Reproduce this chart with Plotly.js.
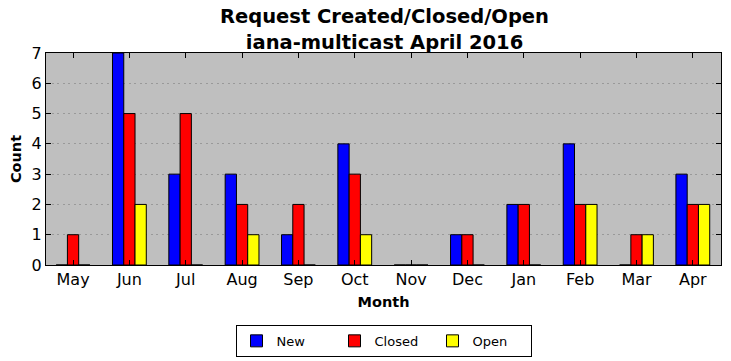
<!DOCTYPE html>
<html>
<head>
<meta charset="utf-8">
<script src="https://cdn.plot.ly/plotly-3.0.1.min.js"></script>
<style>html,body{margin:0;padding:0;background:#fff;}#chart{width:731px;height:361px;}</style>
</head>
<body>
<div id="chart"></div>
<script>
var months = ["May","Jun","Jul","Aug","Sep","Oct","Nov","Dec","Jan","Feb","Mar","Apr"];
var newVals = [0,7,3,3,1,4,0,1,2,4,0,3];
var closedVals = [1,5,5,2,2,3,0,1,2,2,1,2];
var openVals = [0,2,0,1,0,1,0,0,0,2,1,2];
var yTicks = [0,1,2,3,4,5,6,7];

function mk(name, vals, color){
  return {type:'bar', name:name, x:months, y:vals,
    marker:{color:color, line:{color:'#000', width:1}}};
}
var data = [mk('New', newVals, '#0000ff'), mk('Closed', closedVals, '#ff0000'), mk('Open', openVals, '#ffff00')];
var font = "DejaVu Sans, sans-serif";
var layout = {
  width:731, height:361,
  margin:{l:46, r:10, t:53, b:96, autoexpand:false},
  paper_bgcolor:'#fff', plot_bgcolor:'#bfbfbf',
  font:{family:font, color:'#000'},
  title:{text:'<b>Request Created/Closed/Open<br>iana-multicast April 2016</b>', font:{size:19.5, family:font}, x:0.526, xanchor:'center', yref:'container', y:0.935, yanchor:'top'},
  barmode:'group', bargap:0.4, bargroupgap:0,
  xaxis:{type:'category', range:[-0.48,11.5], showline:true, linecolor:'#000', linewidth:1, mirror:'ticks',
    ticks:'inside', ticklen:5, tickcolor:'#000', tickfont:{size:16}, showgrid:false, automargin:false,
    title:{text:'<b>Month</b>', font:{size:14.5}, standoff:8}},
  yaxis:{range:[0,7], tickvals:yTicks, showline:true, linecolor:'#000', linewidth:1, mirror:'ticks',
    ticks:'inside', ticklen:5, tickcolor:'#000', tickfont:{size:16}, showgrid:true, gridcolor:'#999999', griddash:'2px,3.5px', gridwidth:1, zeroline:false, automargin:false,
    title:{text:'<b>Count</b>', font:{size:14.5}, standoff:6}},
  showlegend:true,
  legend:{orientation:'h', x:0.5, xanchor:'center', yref:'container', y:0.1, yanchor:'top', bordercolor:'#000', borderwidth:1, font:{size:13}, bgcolor:'#fff', entrywidth:53, itemwidth:30}
};
Plotly.newPlot('chart', data, layout, {displayModeBar:false});
</script>
</body>
</html>
